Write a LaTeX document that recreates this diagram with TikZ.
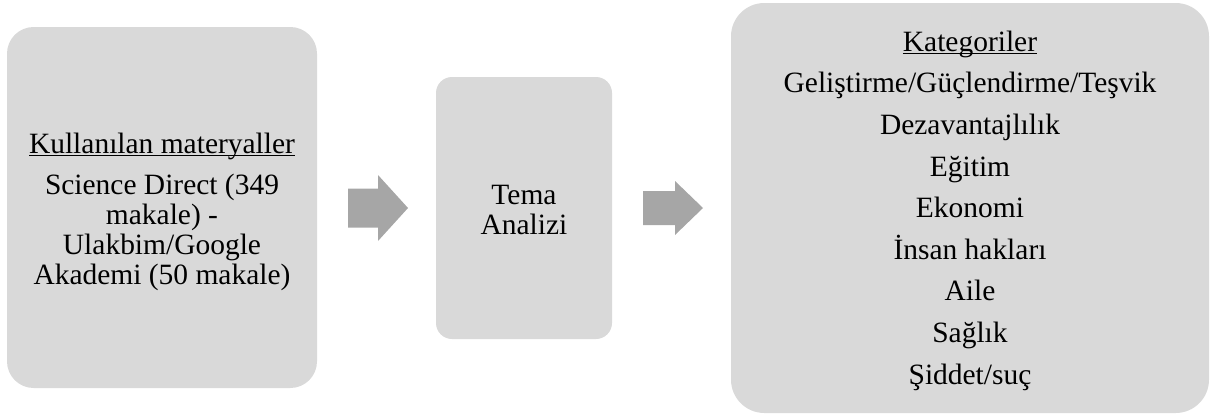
\documentclass[tikz,border=0pt]{standalone}
\usepackage{fontspec}
\setmainfont{Liberation Serif}
\definecolor{boxgray}{HTML}{D9D9D9}
\definecolor{arrgray}{HTML}{A6A6A6}
\newcommand{\ulx}[1]{\setbox0\hbox{#1}\rlap{\rule[-2.2pt]{\wd0}{0.8pt}}\box0}
\newcommand{\boxfont}{\fontsize{22.1pt}{22.5pt}\selectfont\lineskiplimit=-100pt\relax\lineskip=0pt\relax}
\begin{document}
\begin{tikzpicture}[x=0.75pt,y=-0.75pt,
  box/.style={fill=boxgray, inner sep=0pt},
  txt/.style={inner sep=0pt, align=center, font=\boxfont},
  blockarrow/.style={fill=arrgray}]
\useasboundingbox (0,0) rectangle (1210,414);
\node[box, rounded corners=20pt, minimum width=232.5pt, minimum height=270.75pt] (b1) at (162,207.5) {};
\node[txt, yshift=-3pt] (t1) at (b1)
  {\ulx{Kullanılan materyaller}\\[8.25pt]Science Direct (349\\makale) -\\Ulakbim/Google\\Akademi (50 makale)};
\node[box, rounded corners=12pt, minimum width=132pt, minimum height=196.5pt] (b2) at (524,208) {};
\node[txt, yshift=-1.5pt] (t2) at (b2) {Tema\\Analizi};
\node[box, rounded corners=25pt, minimum width=358.5pt, minimum height=307.5pt] (b3) at (970,208) {};
\node[txt, yshift=-2pt] (t3) at (b3)
  {\ulx{Kategoriler}\\[8.7pt]Geliştirme/Güçlendirme/Teşvik\\[8.7pt]Dezavantajlılık\\[8.7pt]Eğitim\\[8.7pt]Ekonomi\\[8.7pt]İnsan hakları\\[8.7pt]Aile\\[8.7pt]Sağlık\\[8.7pt]Şiddet/suç};
\coordinate (a1) at (348,208);
\coordinate (a2) at (643,208);
\fill[blockarrow] (a1) ++(0,-19.5) -- ++(30,0) -- ++(0,-13.5) -- ++(30,33) -- ++(-30,33) -- ++(0,-13.5) -- ++(-30,0) -- cycle;
\fill[blockarrow] (a2) ++(0,-17) -- ++(32,0) -- ++(0,-10) -- ++(28,27) -- ++(-28,27) -- ++(0,-10) -- ++(-32,0) -- cycle;
\end{tikzpicture}
\end{document}
